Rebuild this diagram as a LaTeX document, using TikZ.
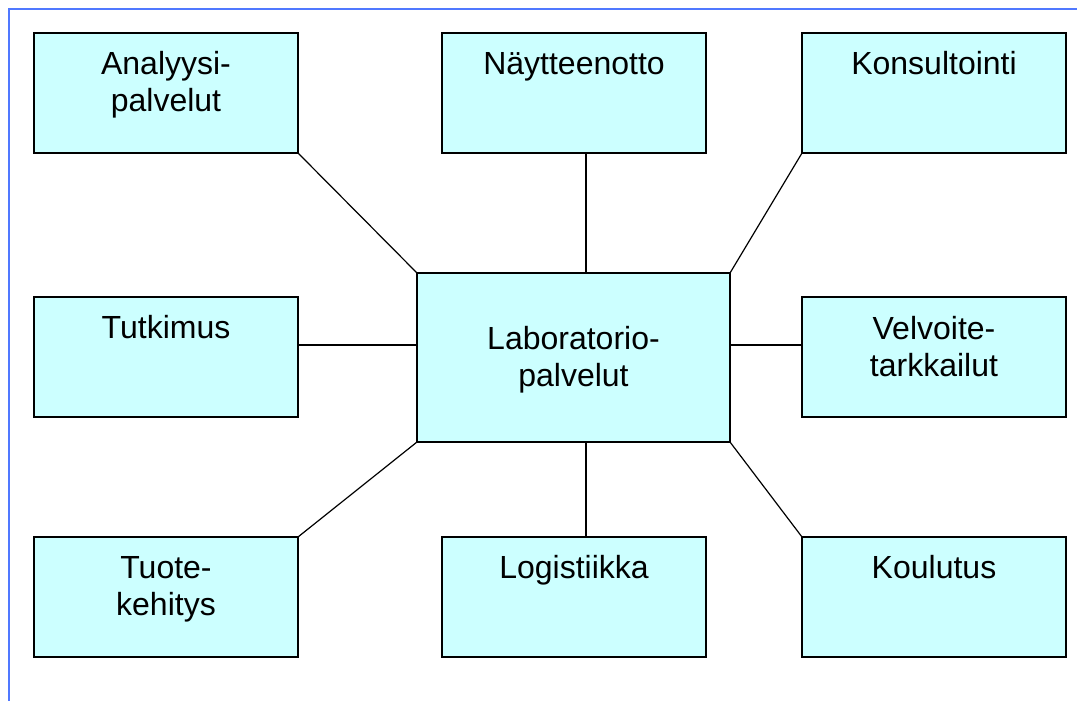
\documentclass[tikz,border=0pt]{standalone}
\usepackage{fontspec}
\setmainfont{Liberation Sans}
\definecolor{framebl}{RGB}{80,120,255}
\definecolor{boxfill}{RGB}{204,255,255}
\tikzset{
  box/.style={draw=black, fill=boxfill, line width=1.6pt, minimum width=264pt, minimum height=120pt, inner sep=0pt, outer sep=0pt},
  cbox/.style={box, minimum width=313pt, minimum height=169pt},
  lbl/.style={anchor=base, inner sep=0pt, text width=260pt, align=center, font=\fontsize{32}{37}\selectfont},
  conn/.style={draw=black, line width=1.2pt}
}
\begin{document}
\begin{tikzpicture}[x=1pt,y=1pt]
\useasboundingbox (0,0) rectangle (1077,701);
% frame
\coordinate (fTL) at (9,692);
\coordinate (fTR) at (1077,692);
\coordinate (fBL) at (9,0);
\draw[framebl, line width=2pt] (fBL) -- (fTL) -- (fTR);
% boxes
\node[box] (A) at (166,608) {};
\node[box] (N) at (574,608) {};
\node[box] (K) at (934,608) {};
\node[box] (T) at (166,344) {};
\node[box] (V) at (934,344) {};
\node[box] (P) at (166,104) {};
\node[box] (L) at (574,104) {};
\node[box] (O) at (934,104) {};
\node[cbox] (C) at (573.5,343.5) {};
% connectors
\draw[conn] (A.south east) -- (C.north west);
\draw[conn] ([xshift=12pt]N.south) -- ([xshift=12.5pt]C.north);
\draw[conn] (K.south west) -- (C.north east);
\draw[conn] ([yshift=12pt]T.east) -- ([yshift=12.5pt]C.west);
\draw[conn] ([yshift=12pt]V.west) -- ([yshift=12.5pt]C.east);
\draw[conn] (P.north east) -- (C.south west);
\draw[conn] ([xshift=12pt]L.north) -- ([xshift=12.5pt]C.south);
\draw[conn] (O.north west) -- (C.south east);
% labels
\node[lbl] (tA) at ([yshift=-42pt]A.north) {Analyysi-\\palvelut};
\node[lbl] (tN) at ([yshift=-42pt]N.north) {Näytteenotto};
\node[lbl] (tK) at ([yshift=-42pt]K.north) {Konsultointi};
\node[lbl] (tT) at ([yshift=-42pt]T.north) {Tutkimus};
\node[lbl] (tV) at ([yshift=-43pt]V.north) {Velvoite-\\tarkkailut};
\node[lbl] (tP) at ([yshift=-42pt]P.north) {Tuote-\\kehitys};
\node[lbl] (tL) at ([yshift=-42pt]L.north) {Logistiikka};
\node[lbl] (tO) at ([yshift=-42pt]O.north) {Koulutus};
\node[lbl] (tC) at ([yshift=7.5pt]C.center) {Laboratorio-\\palvelut};
\end{tikzpicture}
\end{document}
